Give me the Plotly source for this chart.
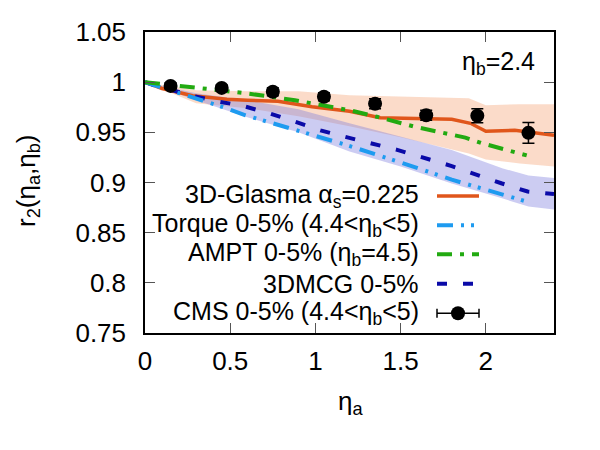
import plotly.graph_objects as go

# ---------------- data ----------------
cms_x = [0.15, 0.45, 0.75, 1.05, 1.35, 1.65, 1.95, 2.25]
cms_y = [0.9963, 0.9943, 0.9904, 0.9854, 0.9785, 0.967, 0.9666, 0.9495]
cms_err = [0.003, 0.003, 0.004, 0.004, 0.005, 0.005, 0.007, 0.0103]

glasma_x = [0, 0.1, 0.28, 0.48, 0.6, 0.78, 0.98, 1.2, 1.38, 1.58, 1.8, 1.91, 2.0, 2.17, 2.4]
glasma_y = [1.0, 0.9937, 0.9864, 0.983, 0.982, 0.981, 0.9755, 0.971, 0.9646, 0.964, 0.963, 0.959, 0.951, 0.952, 0.947]

glasma_band_x = [0, 0.3, 0.6, 0.9, 1.2, 1.5, 1.8, 1.9, 2.0, 2.2, 2.4]
glasma_up = [1.0, 0.992, 0.991, 0.991, 0.987, 0.986, 0.985, 0.984, 0.977, 0.978, 0.978]
glasma_lo = [1.0, 0.979, 0.974, 0.966, 0.956, 0.945, 0.933, 0.929, 0.923, 0.919, 0.916]

torque_x = [0, 0.18, 0.48, 0.59, 0.73, 1.0, 1.18, 1.5, 1.8, 2.24]
torque_y = [1.0, 0.9904, 0.9739, 0.967, 0.960, 0.9457, 0.9375, 0.920, 0.9028, 0.881]

ampt_x = [0, 0.18, 0.38, 0.6, 0.88, 1.2, 1.36, 1.58, 1.77, 1.88, 1.98, 2.24]
ampt_y = [1.0, 0.997, 0.993, 0.9888, 0.982, 0.972, 0.9656, 0.9557, 0.949, 0.9447, 0.939, 0.927]

mcg_x = [0, 0.086, 0.28, 0.42, 0.57, 0.73, 0.88, 1.03, 1.17, 1.48, 1.8, 1.94, 2.095, 2.245, 2.4]
mcg_y = [1.0, 0.9953, 0.9864, 0.981, 0.9765, 0.969, 0.9606, 0.952, 0.9457, 0.9325, 0.9164, 0.908, 0.899, 0.891, 0.8886]

mcg_band_x = [0, 0.3, 0.6, 0.9, 1.2, 1.5, 1.8, 2.1, 2.25, 2.4]
mcg_up = [1.0, 0.989, 0.982, 0.973, 0.959, 0.946, 0.9325, 0.914, 0.907, 0.9045]
mcg_lo = [1.0, 0.982, 0.965, 0.95, 0.931, 0.916, 0.899, 0.884, 0.876, 0.873]

legend_labels = [
    "3D-Glasma α<sub>s</sub>=0.225",
    "Torque 0-5% (4.4<η<sub>b</sub><5)",
    "AMPT 0-5% (η<sub>b</sub>=4.5)",
    "3DMCG 0-5%",
    "CMS 0-5% (4.4<η<sub>b</sub><5)",
]

x_ticks = [0, 0.5, 1, 1.5, 2]
x_ticktext = ["0", "0.5", "1", "1.5", "2"]
y_ticks = [0.75, 0.8, 0.85, 0.9, 0.95, 1.0, 1.05]
y_ticktext = ["0.75", "0.8", "0.85", "0.9", "0.95", "1", "1.05"]

# ---------------- styles ----------------
FONT = "Liberation Sans, Arial, Helvetica, sans-serif"
FS = 26
FS_LEG = 25
C_GLASMA = "#E0561B"
C_TORQUE = "#1E9BF0"
C_AMPT = "#22AA11"
C_MCG = "#0A0AA8"
D_TORQUE = "16px,8px,3px,7px,3px,8px"
D_AMPT = "15px,8px,4px,8px"
D_MCG = "10px,16px"

fig = go.Figure()

# bands
fig.add_trace(go.Scatter(
    x=glasma_band_x + glasma_band_x[::-1], y=glasma_up + glasma_lo[::-1],
    fill="toself", fillcolor="rgba(245,165,120,0.40)", line=dict(width=0),
    mode="lines", showlegend=False, hoverinfo="skip"))
fig.add_trace(go.Scatter(
    x=mcg_band_x + mcg_band_x[::-1], y=mcg_up + mcg_lo[::-1],
    fill="toself", fillcolor="rgba(120,120,220,0.38)", line=dict(width=0),
    mode="lines", showlegend=False, hoverinfo="skip"))

# lines
fig.add_trace(go.Scatter(x=glasma_x, y=glasma_y, mode="lines",
                         line=dict(color=C_GLASMA, width=3.5), showlegend=False))
fig.add_trace(go.Scatter(x=mcg_x, y=mcg_y, mode="lines",
                         line=dict(color=C_MCG, width=4, dash=D_MCG), showlegend=False))
fig.add_trace(go.Scatter(x=torque_x, y=torque_y, mode="lines",
                         line=dict(color=C_TORQUE, width=4, dash=D_TORQUE), showlegend=False))
fig.add_trace(go.Scatter(x=ampt_x, y=ampt_y, mode="lines",
                         line=dict(color=C_AMPT, width=4, dash=D_AMPT), showlegend=False))

# CMS data
fig.add_trace(go.Scatter(
    x=cms_x, y=cms_y, mode="markers",
    marker=dict(color="black", size=14),
    error_y=dict(type="data", array=cms_err, color="black", thickness=1.5, width=6),
    showlegend=False))

# ---------------- layout geometry ----------------
W, H = 600, 450
ML, MR, MT, MB = 145, 46, 32, 117
PW, PH = W - ML - MR, H - MT - MB


def px(xp):
    return (xp - ML) / PW


def py(yp):
    return (MT + PH - yp) / PH


annotations = []
shapes = []

# manual legend (text right-aligned, sample on the right)
rows = [196, 225.3, 254.3, 283.7, 313.3]
text_right = 421
s0, s1 = 437, 479
styles = [
    dict(color=C_GLASMA, width=3.5, dash="solid"),
    dict(color=C_TORQUE, width=4, dash=D_TORQUE),
    dict(color=C_AMPT, width=4, dash=D_AMPT),
    dict(color=C_MCG, width=4, dash=D_MCG),
]
for i, (lab, r) in enumerate(zip(legend_labels, rows)):
    annotations.append(dict(
        text=lab, xref="paper", yref="paper", x=px(text_right), y=py(r),
        xanchor="right", yanchor="middle", showarrow=False,
        font=dict(family=FONT, size=FS_LEG, color="black")))
    if i < 4:
        shapes.append(dict(type="line", xref="paper", yref="paper",
                           x0=px(s0), x1=px(s1), y0=py(r), y1=py(r), line=styles[i]))
# CMS legend sample: horizontal error bar + marker
r = rows[4]
shapes.append(dict(type="line", xref="paper", yref="paper",
                   x0=px(s0), x1=px(s1), y0=py(r), y1=py(r),
                   line=dict(color="black", width=1.5)))
for xx in (s0, s1):
    shapes.append(dict(type="line", xref="paper", yref="paper",
                       x0=px(xx), x1=px(xx), y0=py(r - 4.5), y1=py(r + 4.5),
                       line=dict(color="black", width=1.5)))
cx = (s0 + s1) / 2
shapes.append(dict(type="circle", xref="paper", yref="paper",
                   x0=px(cx - 7), x1=px(cx + 7), y0=py(r + 7), y1=py(r - 7),
                   fillcolor="black", line=dict(color="black", width=0)))

# eta_b label
annotations.append(dict(
    text="η<sub>b</sub>=2.4", xref="paper", yref="paper", x=px(537), y=py(63),
    xanchor="right", yanchor="middle", showarrow=False,
    font=dict(family=FONT, size=FS_LEG, color="black")))

# axis titles
annotations.append(dict(
    text="η<sub>a</sub>", xref="paper", yref="paper", x=px(350), y=py(402),
    xanchor="center", yanchor="middle", showarrow=False,
    font=dict(family=FONT, size=FS, color="black")))
annotations.append(dict(
    text="r<sub>2</sub>(η<sub>a</sub>,η<sub>b</sub>)", xref="paper", yref="paper",
    x=px(27), y=py(181), xanchor="center", yanchor="middle", textangle=-90,
    showarrow=False, font=dict(family=FONT, size=FS, color="black")))

axis_common = dict(
    showline=True, linecolor="black", linewidth=1.5, mirror="ticks",
    ticks="inside", ticklen=10, tickwidth=1, tickcolor="#555",
    showgrid=False, zeroline=False,
    tickfont=dict(family=FONT, size=FS, color="black"),
)

fig.update_layout(
    width=W, height=H,
    margin=dict(l=ML, r=MR, t=MT, b=MB, autoexpand=False),
    paper_bgcolor="white", plot_bgcolor="white",
    xaxis=dict(range=[0, 2.4], tickvals=x_ticks, ticktext=x_ticktext,
               ticklabelstandoff=4, **axis_common),
    yaxis=dict(range=[0.75, 1.05], tickvals=y_ticks, ticktext=y_ticktext,
               ticklabelstandoff=12, **axis_common),
    annotations=annotations, shapes=shapes,
    showlegend=False,
)

fig.write_html("out.html")
